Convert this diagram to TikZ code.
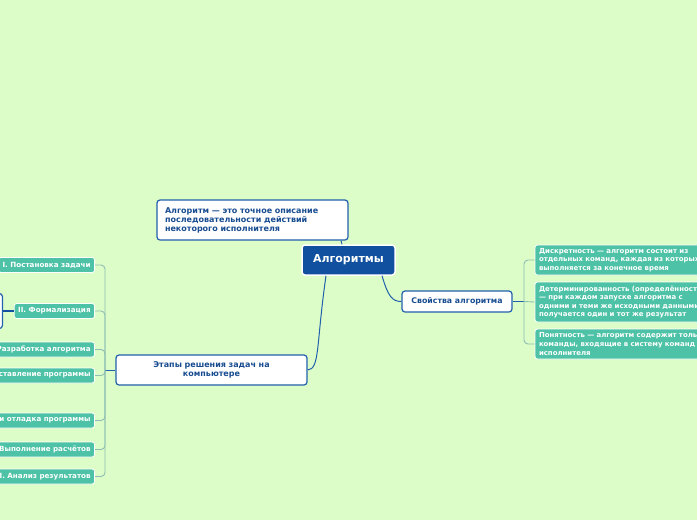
\documentclass[tikz,border=0pt]{standalone}
\usepackage{fontspec}
\setmainfont{DejaVu Sans}
\definecolor{bg}{RGB}{221,253,200}
\definecolor{mainblue}{RGB}{16,80,158}
\definecolor{edgeblue}{RGB}{33,96,172}
\definecolor{txtblue}{RGB}{24,76,145}
\definecolor{teal}{RGB}{78,194,166}
\definecolor{brk}{RGB}{140,190,180}
\begin{document}
\begin{tikzpicture}[x=1pt,y=-1pt,
  mainnode/.style={draw=white,line width=1.5pt,fill=mainblue,rounded corners=3pt,text=white,
    font=\fontsize{11}{13}\selectfont\bfseries,minimum width=93pt,minimum height=30pt,inner sep=0pt},
  whitebox/.style={draw=edgeblue,line width=1.2pt,fill=white,rounded corners=3pt,text=txtblue,
    font=\fontsize{8}{9}\selectfont\bfseries,inner sep=0pt},
  tealbox/.style={draw=white,line width=0.8pt,fill=teal,rounded corners=2.5pt,text=white,
    font=\fontsize{6.95}{8.6}\selectfont\bfseries,inner sep=0pt},
  leftbox/.style={draw=white,line width=0.8pt,fill=teal,rounded corners=2.5pt,text=white,
    font=\fontsize{7.15}{8}\selectfont\bfseries,inner xsep=4pt,inner ysep=0pt,minimum height=15pt,anchor=east},
  conn/.style={draw=edgeblue,line width=1pt},
  br/.style={draw=brk,line width=0.9pt,rounded corners=4pt}]
\fill[bg] (0,0) rectangle (697,520);
\useasboundingbox (0,0) rectangle (697,520);
\clip (0,0) rectangle (697,520);

% main
\node[mainnode] (main) at (348.5,260) {Алгоритмы};
\node[whitebox,minimum width=191pt,minimum height=40pt,text width=175pt,align=left] (def) at (252.5,220)
  {Алгоритм — это точное описание\\последовательности действий\\некоторого исполнителя};
\node[whitebox,minimum width=110pt,minimum height=21pt,font=\fontsize{7.8}{9}\selectfont\bfseries] (prop) at (457,301.5) {Свойства алгоритма};
\node[whitebox,minimum width=191pt,minimum height=30pt,text width=185pt,align=center] (stages) at (211.5,370)
  {Этапы решения задач на\\компьютере};

% right children
\node[tealbox,minimum width=185pt,minimum height=30pt,text width=177pt,align=left] (p1) at (627.5,260)
  {Дискретность — алгоритм состоит из\\отдельных команд, каждая из которых\\выполняется за конечное время};
\node[tealbox,minimum width=185pt,minimum height=40pt,text width=177pt,align=left] (p2) at (627.5,302)
  {Детерминированность (определённость)\\— при каждом запуске алгоритма с\\одними и теми же исходными данными\\получается один и тот же результат};
\node[tealbox,minimum width=185pt,minimum height=30pt,text width=177pt,align=left] (p3) at (627.5,344)
  {Понятность — алгоритм содержит только\\команды, входящие в систему команд\\исполнителя};

% left children
\node[leftbox] (s1) at (95,265) {I. Постановка задачи};
\node[leftbox] (s2) at (95,311) {II. Формализация};
\node[leftbox,text width=110pt,align=right] (s3) at (95,349.5) {Разработка алгоритма};
\node[leftbox,text width=110pt,align=right] (s4) at (95,375.5) {ставление программы};
\node[leftbox,text width=110pt,align=right] (s5) at (95,420.5) {и отладка программы};
\node[leftbox,text width=110pt,align=right] (s6) at (95,449.5) {Выполнение расчётов};
\node[leftbox,text width=110pt,align=right] (s7) at (95,476.5) {I. Анализ результатов};
\node[whitebox,minimum width=60pt,minimum height=35pt,anchor=east] (sub) at (3,311) {};

% connectors
\draw[conn] (def.south -| 341,0) -- (main.north -| 342,0);
\draw[conn] (main.south -| 382,0) .. controls (388,296) and (392,301.5) .. (prop.west);
\draw[conn] (main.south -| 326,0) .. controls (316,345) and (320,369) .. (stages.east);
\coordinate (rj) at (524,301.5);
\draw[conn] (prop.east) -- (rj);
\draw[br] (rj) |- (p1.west);
\draw[br] (rj) -- (p2.west);
\draw[br] (rj) |- (p3.west);
\coordinate (lj) at (105,370);
\draw[conn] (stages.west) -- (lj);
\draw[br] (lj) |- (s1.east);
\draw[br] (lj) |- (s2.east);
\draw[br] (lj) |- (s3.east);
\draw[br] (lj) |- (s4.east);
\draw[br] (lj) |- (s5.east);
\draw[br] (lj) |- (s6.east);
\draw[br] (lj) |- (s7.east);
\draw[draw=mainblue,line width=1.2pt] (s2.west) -- (sub.east);
\end{tikzpicture}
\end{document}
